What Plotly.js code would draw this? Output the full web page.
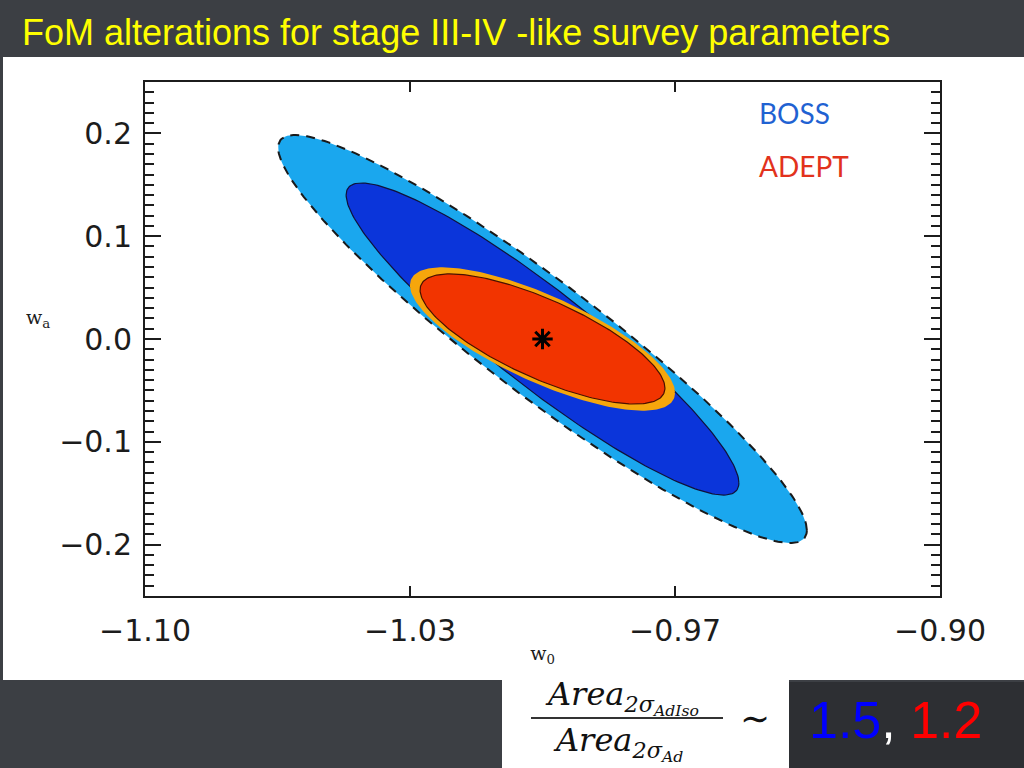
<!DOCTYPE html>
<html>
<head>
<meta charset="utf-8">
<script src="https://cdn.plot.ly/plotly-3.0.1.min.js"></script>
<style>
  html, body { margin: 0; padding: 0; background: #3c3f44; }
  #chart { width: 1024px; height: 768px; }
</style>
</head>
<body>
<div id="chart"></div>
<script>
// ---------------- data ----------------
const slideTitle = 'FoM alterations for stage III-IV -like survey parameters';
const xTickVals = [-1.1, -1.0333333, -0.9666667, -0.9];
const xTickText = ['\u22121.10', '\u22121.03', '\u22120.97', '\u22120.90'];
const yTickVals = [-0.2, -0.1, 0.0, 0.1, 0.2];
const yTickText = ['\u22120.2', '\u22120.1', '0.0', '0.1', '0.2'];

// fiducial model
const fiducialW0 = [-1.0];
const fiducialWa = [0.0];

// 2-sigma contours: name, marginal widths and correlation
const contourNames = ['BOSS Ad+Iso', 'BOSS Ad', 'ADEPT Ad+Iso', 'ADEPT Ad'];
const sigmaW0 = [0.0665, 0.0494, 0.0331, 0.0308];
const sigmaWa = [0.1985, 0.1518, 0.0688, 0.0633];
const corrW0Wa = [-0.937, -0.922, -0.760, -0.754];

const legendNames = ['BOSS', 'ADEPT'];
const ratioValues = ['1.5', '1.2'];

// ---------------- styles ----------------
const fillColors = ['#1aa7ee', '#0b35da', '#f6a60c', '#f23400'];
const lineColors = ['#1a1a1a', '#10123a', '#f6a60c', '#4a1000'];
const lineWidths = [2, 1.2, 2, 1.2];
const lineDashes = ['9px,7px', 'solid', 'solid', 'solid'];

// ---------------- geometry helpers ----------------
const W = 1024, H = 768;
const M = { l: 145, r: 84, t: 82, b: 172 };
const PW = W - M.l - M.r, PH = H - M.t - M.b;
const px = x => (x - M.l) / PW;          // pixel x -> paper x
const py = y => (H - M.b - y) / PH;      // pixel y -> paper y

function ellipseTrace(i) {
  const xs = [], ys = [];
  const n = 240;
  const s = Math.sqrt(1 - corrW0Wa[i] * corrW0Wa[i]);
  for (let k = 0; k <= n; k++) {
    const t = 2 * Math.PI * k / n;
    xs.push(fiducialW0[0] + sigmaW0[i] * Math.cos(t));
    ys.push(fiducialWa[0] + sigmaWa[i] * (corrW0Wa[i] * Math.cos(t) + s * Math.sin(t)));
  }
  return {
    type: 'scatter', mode: 'lines', name: contourNames[i],
    x: xs, y: ys, fill: 'toself', fillcolor: fillColors[i],
    line: { color: lineColors[i], width: lineWidths[i], dash: lineDashes[i] },
    hoverinfo: 'skip', showlegend: false
  };
}

const traces = [0, 1, 2, 3].map(ellipseTrace);
traces.push({
  type: 'scatter', mode: 'markers', name: 'fiducial',
  x: fiducialW0, y: fiducialWa,
  marker: { symbol: 'asterisk-open', size: 17, color: '#000', line: { color: '#000', width: 3 } },
  showlegend: false, hoverinfo: 'skip'
});

const tickFont = { family: 'DejaVu Sans, sans-serif', size: 30, color: '#1c1c1c' };
const axisCol = '#1c1c1c';

const layout = {
  width: W, height: H,
  margin: M,
  paper_bgcolor: '#3c3f44',
  plot_bgcolor: '#ffffff',
  showlegend: false,
  title: {
    text: slideTitle,
    x: 22 / W, xanchor: 'left', xref: 'container',
    y: 1 - 32 / H, yanchor: 'middle', yref: 'container',
    font: { family: 'Liberation Sans, Arial, sans-serif', size: 36, color: '#ffff00' }
  },
  xaxis: {
    range: [-1.1, -0.9],
    tickmode: 'array', tickvals: xTickVals, ticktext: xTickText,
    ticks: 'inside', ticklen: 10, tickwidth: 2, tickcolor: axisCol,
    showline: true, linewidth: 2, linecolor: axisCol, mirror: 'ticks',
    showgrid: false, zeroline: false,
    tickfont: tickFont, ticklabelstandoff: 7,
    title: { text: 'w<sub>0</sub>', standoff: 0,
             font: { family: 'DejaVu Serif, serif', size: 19, color: '#1c1c1c' } },
    fixedrange: true
  },
  yaxis: {
    range: [-0.25, 0.25],
    tickmode: 'array', tickvals: yTickVals, ticktext: yTickText,
    ticks: 'inside', ticklen: 16, tickwidth: 2, tickcolor: axisCol,
    minor: { tickmode: 'linear', tick0: 0, dtick: 0.01, ticks: 'inside', ticklen: 9, tickwidth: 2, tickcolor: axisCol },
    showline: true, linewidth: 2, linecolor: axisCol, mirror: 'ticks',
    showgrid: false, zeroline: false,
    tickfont: tickFont, ticklabelstandoff: 5,
    fixedrange: true
  },
  shapes: [
    // white slide panel behind the chart
    { type: 'rect', xref: 'paper', yref: 'paper', layer: 'below',
      x0: px(3), x1: px(1024), y0: py(680), y1: py(57),
      fillcolor: '#ffffff', line: { width: 0 } },
    // white box holding the formula
    { type: 'rect', xref: 'paper', yref: 'paper', layer: 'below',
      x0: px(502), x1: px(789), y0: py(768), y1: py(680),
      fillcolor: '#ffffff', line: { width: 0 } },
    // dark box holding the ratios
    { type: 'rect', xref: 'paper', yref: 'paper', layer: 'below',
      x0: px(789), x1: px(1024), y0: py(768), y1: py(682),
      fillcolor: '#2d2f33', line: { width: 0 } },
    // fraction bar
    { type: 'line', xref: 'paper', yref: 'paper',
      x0: px(531), x1: px(723), y0: py(718), y1: py(718),
      line: { color: '#333', width: 2 } }
  ],
  annotations: [
    { text: legendNames[0], xref: 'paper', yref: 'paper', x: px(757), y: py(113),
      xanchor: 'left', yanchor: 'middle', showarrow: false,
      font: { family: 'Lato, sans-serif', size: 28, color: '#1f62d2' } },
    { text: legendNames[1], xref: 'paper', yref: 'paper', x: px(757), y: py(166),
      xanchor: 'left', yanchor: 'middle', showarrow: false,
      font: { family: 'Lato, sans-serif', size: 28, color: '#e2321c' } },
    { text: 'w<sub>a</sub>', xref: 'paper', yref: 'paper', x: px(38), y: py(318),
      xanchor: 'center', yanchor: 'middle', showarrow: false,
      font: { family: 'DejaVu Serif, serif', size: 19, color: '#1c1c1c' } },
    // formula numerator / denominator
    { text: '<i>Area</i><sub><i>2σ</i><sub><i>AdIso</i></sub></sub>', xref: 'paper', yref: 'paper',
      x: px(622), y: py(697), xanchor: 'center', yanchor: 'middle', showarrow: false,
      font: { family: 'DejaVu Serif, serif', size: 32, color: '#111' } },
    { text: '<i>Area</i><sub><i>2σ</i><sub><i>Ad</i></sub></sub>', xref: 'paper', yref: 'paper',
      x: px(618), y: py(744), xanchor: 'center', yanchor: 'middle', showarrow: false,
      font: { family: 'DejaVu Serif, serif', size: 32, color: '#111' } },
    { text: '\u223C', xref: 'paper', yref: 'paper', x: px(755), y: py(718),
      xanchor: 'center', yanchor: 'middle', showarrow: false,
      font: { family: 'DejaVu Serif, serif', size: 36, color: '#111' } },
    { text: '<span style="color:#0000ff">' + ratioValues[0] + '</span>, <span style="color:#ff0000">' + ratioValues[1] + '</span>',
      xref: 'paper', yref: 'paper', x: px(896), y: py(720),
      xanchor: 'center', yanchor: 'middle', showarrow: false,
      font: { family: 'Liberation Sans, Arial, sans-serif', size: 52, color: '#ffffff' } }
  ]
};

Plotly.newPlot('chart', traces, layout, { displayModeBar: false, staticPlot: true });
</script>
</body>
</html>
